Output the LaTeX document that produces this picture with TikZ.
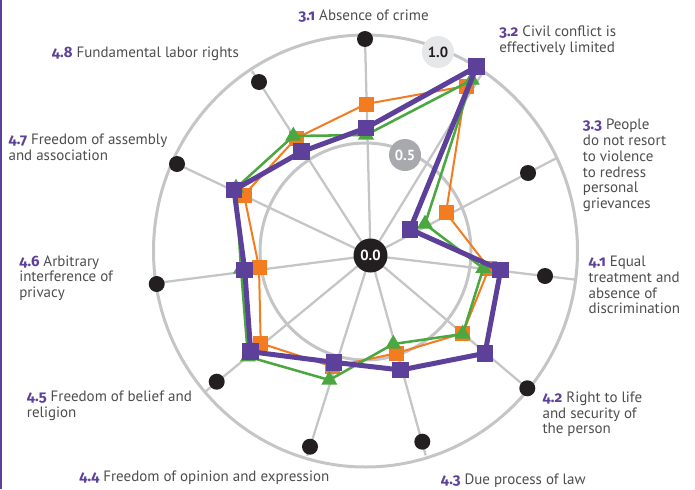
\documentclass[tikz,border=0pt]{standalone}
\usepackage{fontspec}
\setmainfont{PT Sans}
\newfontfamily\numfont[Numbers=OldStyle]{Fira Sans}
\usetikzlibrary{shapes.geometric}
\definecolor{ringc}{RGB}{196,197,199}
\definecolor{dotc}{RGB}{35,31,32}
\definecolor{pur}{RGB}{92,64,153}
\definecolor{org}{RGB}{243,123,32}
\definecolor{grn}{RGB}{75,167,63}
\definecolor{txt}{RGB}{77,77,79}
\definecolor{lgray}{RGB}{230,231,232}
\definecolor{mgray}{RGB}{167,169,172}
\newcommand{\lnum}[1]{{\numfont\bfseries\color{pur}#1}}
\tikzset{
  ringline/.style={draw=ringc, line width=2.25pt},
  spoke/.style={draw=ringc, line width=1.7pt},
  dot/.style={circle, fill=dotc, minimum size=12pt, inner sep=0pt},
  lbl/.style={anchor=base west, inner sep=0pt, align=left, text=txt, font=\fontsize{11.25}{11.8}\selectfont},
  valc/.style={circle, minimum size=24pt, inner sep=0pt, font=\bfseries\fontsize{11}{11}\selectfont},
  oline/.style={draw=org, line width=1.5pt, line join=round},
  gline/.style={draw=grn, line width=1.9pt, line join=round},
  pline/.style={draw=pur, line width=3.75pt, line join=round},
  omark/.style={rectangle, fill=org, minimum size=11.25pt, inner sep=0pt},
  gmark/.style={regular polygon, regular polygon sides=3, fill=grn, minimum size=14pt, inner sep=0pt},
  pmark/.style={rectangle, fill=pur, minimum size=12.5pt, inner sep=0pt},
}
\begin{document}
\begin{tikzpicture}[x=0.75pt, y=-0.75pt]
\useasboundingbox (0,0) rectangle (695,489);
% left border
\draw[pur, line width=1.2pt] (1,0) -- (1,489);
% rings
\draw[ringline] (365.5,251) ellipse [x radius=212, y radius=216];
\draw[ringline] (365.5,251.5) ellipse [x radius=105.5, y radius=108.5];
% hub and spoke ends
\coordinate (hub) at (370.5,255.5);
\foreach \n/\x/\y in {31/365/38, 32/482.5/72.7, 33/557.4/157.6, 41/577/279.8, 42/528.1/389,
  43/425.7/455.4, 44/307.2/455.8, 45/205.7/391.3, 46/155.5/283.2, 47/172.6/161.9, 48/252/71.1}
  \coordinate (e\n) at (\x,\y);
\foreach \n in {31,32,33,41,42,43,44,45,46,47,48}
  \draw[spoke] (hub) -- (e\n);
% dots
\foreach \n/\x/\y in {31/365/39, 32/476.7/66.7, 33/528/173, 41/545/276, 42/527.3/388.3,
  43/422.3/441.7, 44/310/446.7, 45/216.7/381.7, 46/156.7/284, 47/177/164, 48/259/82}
  \node[dot] (d\n) at (\x,\y) {};
% value circles
\node[valc, fill=lgray, text=dotc] (v10) at (438,52) {1.0};
\node[valc, fill=mgray, text=white] (v05) at (405,155) {0.5};
\node[valc, fill=dotc, text=white, minimum size=25.5pt] (v00) at (hub) {0.0};
% data coordinates
\foreach \n/\x/\y in {31/366/104, 32/466/86, 33/446/212.7, 41/489/268.3, 42/462.7/333.3,
  43/396/353.3, 44/332.7/366.7, 45/260.7/343.3, 46/259/267.3, 47/244/195, 48/296/138.3}
  \coordinate (o\n) at (\x,\y);
\foreach \n/\x/\y in {31/366/135, 32/471.7/80, 33/425/224, 41/483.3/268.3, 42/462.7/334,
  43/393.3/344, 44/329.3/380, 45/248/356.7, 46/241/269, 47/236/188, 48/293.3/136}
  \coordinate (g\n) at (\x,\y);
\foreach \n/\x/\y in {31/366/128, 32/476.7/66.7, 33/410/229.3, 41/500.7/270, 42/485/353.3,
  43/400.7/370, 44/334/362.3, 45/250.7/351.7, 46/244.7/270, 47/234/190, 48/301.7/151.7}
  \coordinate (p\n) at (\x,\y);
% orange series
\draw[oline] (o31) -- (o32) -- (o33) -- (o41) -- (o42) -- (o43) -- (o44) -- (o45) -- (o46) -- (o47) -- (o48) -- cycle;
\foreach \n in {31,32,33,41,42,43,44,45,46,47,48}
  \node[omark] (om\n) at (o\n) {};
% green series
\draw[gline] (g31) -- (g32) -- (g33) -- (g41) -- (g42) -- (g43) -- (g44) -- (g45) -- (g46) -- (g47) -- (g48) -- cycle;
\foreach \n in {31,32,33,41,42,43,44,45,46,47,48}
  \node[gmark] (gm\n) at (g\n) {};
% purple series
\draw[pline] (p31) -- (p32) -- (p33) -- (p41) -- (p42) -- (p43) -- (p44) -- (p45) -- (p46) -- (p47) -- (p48) -- cycle;
\foreach \n in {31,32,33,41,42,43,44,45,46,47,48}
  \node[pmark] (pm\n) at (p\n) {};
% labels (anchored at the baseline of the last line)
\node[lbl] (l31) at (298.3,20.7) {\lnum{3.1} Absence of crime};
\node[lbl] (l32) at (499,52.4) {\lnum{3.2} Civil conflict is\\effectively limited};
\node[lbl] (l33) at (582.7,208.5) {\lnum{3.3} People\\do not resort\\to violence\\to redress\\personal\\grievances};
\node[lbl] (l41) at (588.3,313.9) {\lnum{4.1} Equal\\treatment and\\absence of\\discrimination};
\node[lbl] (l42) at (542.3,433.8) {\lnum{4.2} Right to life\\and security of\\the person};
\node[lbl] (l43) at (440.7,484) {\lnum{4.3} Due process of law};
\node[lbl] (l44) at (79,481.5) {\lnum{4.4} Freedom of opinion and expression};
\node[lbl] (l45) at (26.7,417.7) {\lnum{4.5} Freedom of belief and\\religion};
\node[lbl] (l46) at (19,297.5) {\lnum{4.6} Arbitrary\\interference of\\privacy};
\node[lbl] (l47) at (8.3,160.2) {\lnum{4.7} Freedom of assembly\\and association};
\node[lbl] (l48) at (51.7,57) {\lnum{4.8} Fundamental labor rights};
\end{tikzpicture}
\end{document}
